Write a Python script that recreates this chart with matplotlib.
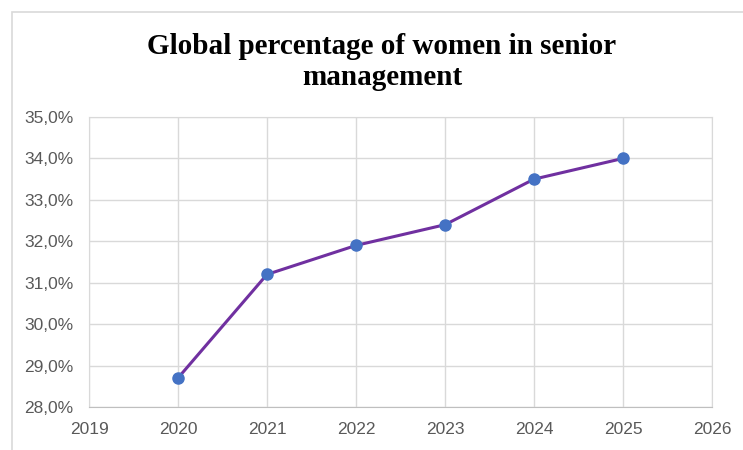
import matplotlib
matplotlib.use('Agg')
import matplotlib.pyplot as plt
from matplotlib.patches import Rectangle
from matplotlib.ticker import FuncFormatter, MultipleLocator

# data
years = [2020, 2021, 2022, 2023, 2024, 2025]
share = [28.7, 31.2, 31.9, 32.4, 33.5, 34.0]
title = 'Global percentage of women in senior\nmanagement'

W, H = 743, 450
fig = plt.figure(figsize=(W / 100, H / 100), dpi=100)

# chart frame (cut off on right and bottom like the screenshot)
fig.patches.append(Rectangle((12 / W, -0.1), 1.0, 1 - 12 / H + 0.1, transform=fig.transFigure,
                             fill=False, edgecolor='#d9d9d9', lw=1.2))

ax = fig.add_axes([89 / W, 1 - 407 / H, (712 - 89) / W, (407 - 117) / H])
ax.plot(years, share, color='#7030A0', lw=2.2, marker='o', ms=8,
        mfc='#4472C4', mec='#4472C4', zorder=3)

ax.set_xlim(2019, 2026)
ax.set_ylim(28, 35)
ax.xaxis.set_major_locator(MultipleLocator(1))
ax.yaxis.set_major_locator(MultipleLocator(1))
ax.yaxis.set_major_formatter(FuncFormatter(lambda v, p: f'{v:.1f}%'.replace('.', ',')))
ax.grid(True, color='#d9d9d9', lw=1)
ax.set_axisbelow(True)
for s in ['left', 'top', 'right']:
    ax.spines[s].set_color('#d9d9d9')
ax.spines['bottom'].set_color('#bfbfbf')
ax.tick_params(length=0, labelsize=12.5, labelcolor='#595959', pad=11)
for lab in ax.get_xticklabels() + ax.get_yticklabels():
    lab.set_family('Liberation Sans')

fig.text(382 / W, 1 - 62 / H, title, ha='center', va='center', family='Liberation Serif',
         weight='bold', fontsize=21, linespacing=1.22)

fig.savefig('out.png', dpi=100)
